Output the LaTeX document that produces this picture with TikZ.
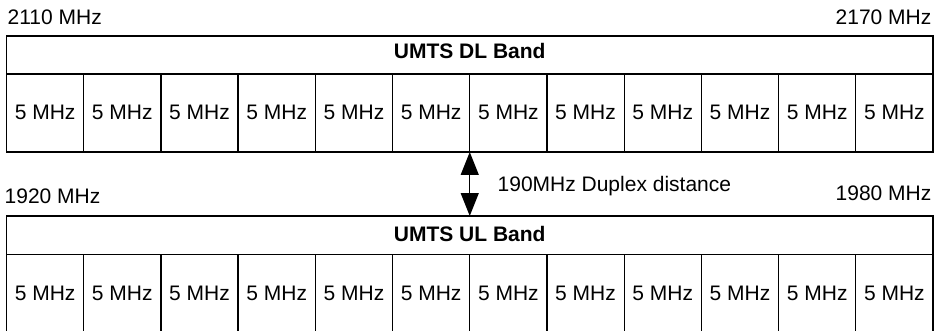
\documentclass[tikz,border=0pt]{standalone}
\usepackage{fontspec}
\setmainfont{Liberation Sans}
\usetikzlibrary{arrows.meta}
\begin{document}
\begin{tikzpicture}[x=1pt,y=-1pt, line width=1.3pt,
  lbl/.style={inner sep=0pt, font=\fontsize{21}{24}\selectfont},
  hdr/.style={inner sep=0pt, font=\fontsize{21}{24}\selectfont\bfseries},
  bigtip/.tip={Triangle[width=18pt,length=23pt]}]
\useasboundingbox (0,0) rectangle (936,331);
\pgfmathsetmacro\L{6.5}
\pgfmathsetmacro\R{933}
\pgfmathsetmacro\W{(933-6.5)/12}
% frequency labels
\node[lbl, anchor=base west] (f2110) at (7,25) {2110 MHz};
\node[lbl, anchor=base east] (f2170) at (932,25) {2170 MHz};
\node[lbl, anchor=base west] (f1920) at (4,204) {1920 MHz};
\node[lbl, anchor=base east] (f1980) at (932,200.7) {1980 MHz};
% DL band
\draw (\L,36) rectangle (\R,152);
\draw (\L,74) -- (\R,74);
\foreach \i in {1,...,11} \draw ({\L+\i*\W},74) -- ({\L+\i*\W},152);
\node[hdr, anchor=base] (dlhdr) at ({(\L+\R)/2},59) {UMTS DL Band};
\foreach \i in {1,...,12} \node[lbl, anchor=base] (dl\i) at ({\L+(\i-0.5)*\W},119.3) {5 MHz};
% UL band
\draw (\L,331) -- (\L,216) -- (\R,216) -- (\R,331);
\draw (\L,254.7) -- (\R,254.7);
\foreach \i in {1,...,11} \draw ({\L+\i*\W},254.7) -- ({\L+\i*\W},331);
\node[hdr, anchor=base] (ulhdr) at ({(\L+\R)/2},241.7) {UMTS UL Band};
\foreach \i in {1,...,12} \node[lbl, anchor=base] (ul\i) at ({\L+(\i-0.5)*\W},300) {5 MHz};
% duplex arrow
\coordinate (dltop) at ({\L+6*\W},152);
\coordinate (ulbot) at ({\L+6*\W},216);
\draw[bigtip-bigtip] (dltop) -- (ulbot);
\node[lbl, anchor=base west] (duplex) at (497,191.5) {190MHz Duplex distance};
\end{tikzpicture}
\end{document}
